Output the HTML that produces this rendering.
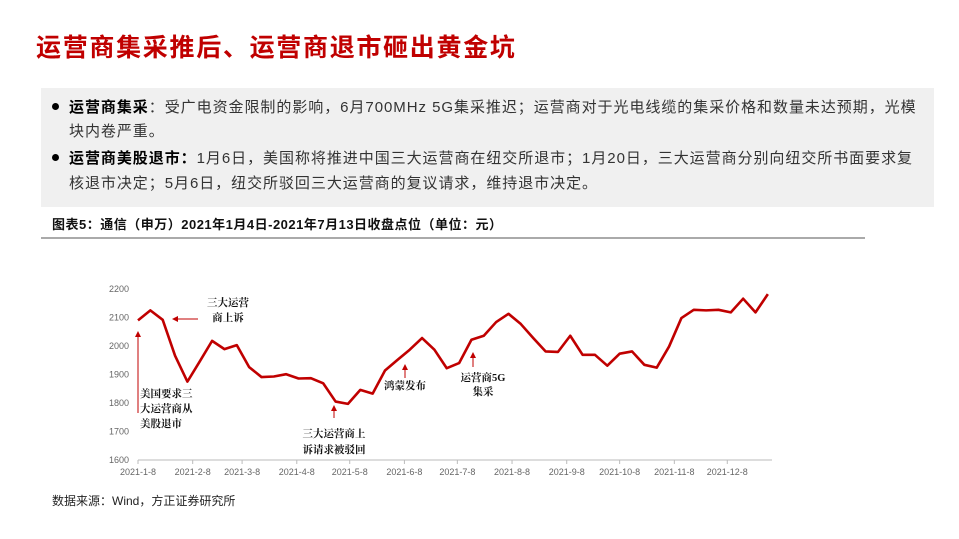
<!DOCTYPE html>
<html><head><meta charset="utf-8">
<style>
body{margin:0;width:959px;height:539px;background:#fff;position:relative;overflow:hidden;font-family:"Liberation Sans","Noto Sans CJK SC",sans-serif;}
.abs{position:absolute;white-space:nowrap;}
#title{left:36px;top:28px;font-size:25px;font-weight:bold;color:#c00000;letter-spacing:1.7px;}
#box{left:41px;top:88px;width:893px;height:119px;background:#f0f0f0;}
.ln{font-size:15px;color:#333;left:69px;letter-spacing:0.95px;}
.ln b{color:#000;}
.dot{left:52px;width:7px;height:7px;border-radius:50%;background:#000;}
#cap{left:52px;top:214px;font-size:13px;font-weight:bold;color:#111;letter-spacing:0.5px;}
#rule{left:41px;top:237px;width:824px;height:2px;background:#aaa;}
#src{left:52px;top:492px;font-size:12px;color:#222;}
</style></head><body>
<div class="abs" id="title">运营商集采推后、运营商退市砸出黄金坑</div>
<div class="abs" id="box"></div>
<div class="abs dot" style="top:103px"></div>
<div class="abs ln" style="top:96px"><b>运营商集采</b>：受广电资金限制的影响，6月700MHz 5G集采推迟；运营商对于光电线缆的集采价格和数量未达预期，光模</div>
<div class="abs ln" style="top:120px">块内卷严重。</div>
<div class="abs dot" style="top:154px"></div>
<div class="abs ln" style="top:147px"><b>运营商美股退市：</b>1月6日，美国称将推进中国三大运营商在纽交所退市；1月20日，三大运营商分别向纽交所书面要求复</div>
<div class="abs ln" style="top:172px">核退市决定；5月6日，纽交所驳回三大运营商的复议请求，维持退市决定。</div>
<div class="abs" id="cap">图表5：通信（申万）2021年1月4日-2021年7月13日收盘点位（单位：元）</div>
<div class="abs" id="rule"></div>
<svg class="abs" style="left:0;top:0" width="959" height="539" id="chart"></svg>
<div class="abs" id="src">数据来源：Wind，方正证券研究所</div>
<script>
const values=[2090,2125,2092,1966,1875,1946,2018,1989,2003,1926,1891,1893,1901,1886,1887,1869,1805,1797,1846,1833,1914,1951,1987,2028,1987,1922,1940,2022,2036,2084,2113,2077,2028,1981,1979,2036,1969,1969,1931,1973,1981,1934,1924,1998,2098,2127,2125,2127,2118,2166,2118,2182];
const yTicks=[1600,1700,1800,1900,2000,2100,2200];
const xTickLabels=["2021-1-8","2021-2-8","2021-3-8","2021-4-8","2021-5-8","2021-6-8","2021-7-8","2021-8-8","2021-9-8","2021-10-8","2021-11-8","2021-12-8"];
const xTickDays=[0,31,59,90,120,151,181,212,243,273,304,334];
const NS="http://www.w3.org/2000/svg";
const svg=document.getElementById('chart');
const x0=138,pxPerDay=12.35/7;
const xDay=d=>x0+d*pxPerDay;
const xIdx=i=>xDay(i*7);
const y=v=>460-(v-1600)*(171/600);
function mk(t,a,txt){const e=document.createElementNS(NS,t);for(const k in a)e.setAttribute(k,a[k]);if(txt!==undefined)e.textContent=txt;svg.appendChild(e);return e;}
const ax=mk('line',{x1:138,y1:460,x2:772,y2:460,stroke:'#bbb','stroke-width':1});


yTicks.forEach(v=>{const t=mk('text',{x:129,y:y(v)+3,'font-size':9,fill:'#666','text-anchor':'end','font-family':'Liberation Sans'},v);

});
xTickLabels.forEach((l,i)=>{const xx=xDay(xTickDays[i]);
const tk=mk('line',{x1:xx,y1:460,x2:xx,y2:464,stroke:'#bbb'});


const t=mk('text',{x:xx,y:475,'font-size':9,fill:'#666','text-anchor':'middle','font-family':'Liberation Sans'},l);

});
const pl=mk('polyline',{points:values.map((v,i)=>xIdx(i)+','+y(v)).join(' '),fill:'none',stroke:'#c00000','stroke-width':2.6,'stroke-linejoin':'round'});


const red='#c00000';
function arrowUp(x,y1,y2){mk('line',{x1:x,y1:y1,x2:x,y2:y2+5,stroke:red,'stroke-width':1});mk('polygon',{points:`${x-3},${y2+6} ${x+3},${y2+6} ${x},${y2}`,fill:red});}
arrowUp(138,413,331);
arrowUp(334,418,405);
arrowUp(405,378,364);
arrowUp(473,367,352);
mk('line',{x1:198,y1:319,x2:178,y2:319,stroke:red,'stroke-width':1});
mk('polygon',{points:'172,319 178,316 178,322',fill:red});
const notes=[[228,306,'三大运营'],[228,321,'商上诉'],[140,397,'美国要求三'],[140,412,'大运营商从'],[140,427,'美股退市'],[334,437,'三大运营商上'],[334,453,'诉请求被驳回'],[405,389,'鸿蒙发布'],[483,381,'运营商5G'],[483,395,'集采']];
notes.forEach((n,i)=>{const t=mk('text',{x:n[0],y:n[1],'font-size':10.5,'font-weight':'bold',fill:'#111','text-anchor':(i>=2&&i<=4)?'start':'middle','font-family':'"Liberation Serif","Noto Serif CJK SC",serif'},n[2]);

});
</script>
</body></html>
